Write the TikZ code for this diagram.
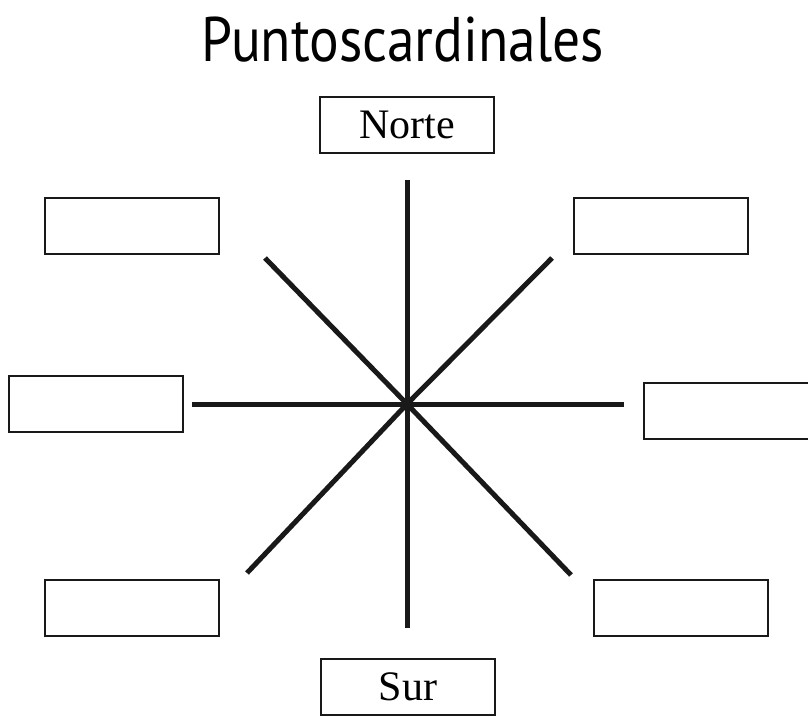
\documentclass[tikz,border=0pt]{standalone}
\usepackage{fontspec}
\setmainfont{Liberation Serif}
\newfontfamily\titlefont[FakeStretch=0.88]{PT Sans}
\begin{document}
\begin{tikzpicture}[x=1pt,y=-1pt,
  lbl/.style={draw=black!90, line width=2pt, minimum width=174pt, minimum height=56pt, inner sep=0pt, font=\fontsize{42}{42}\selectfont},
  ray/.style={line width=5pt, black!90}]
\useasboundingbox (0,0) rectangle (808,717);
\node[font=\titlefont\fontsize{63}{63}\selectfont, anchor=base, inner sep=0pt] (title) at (403,62) {Puntoscardinales};
\node[lbl] (N) at (407,124.5) {Norte};
\node[lbl] (S) at (408,686.5) {Sur};
\node[lbl] (NW) at (132,225.5) {};
\node[lbl] (NE) at (661,225.5) {};
\node[lbl] (W) at (96,404) {};
\node[lbl] (E) at (731,411) {};
\node[lbl] (SW) at (132,608) {};
\node[lbl] (SE) at (681,608) {};
\coordinate (C) at (407,404);
\coordinate (pN) at (407,180);
\coordinate (pS) at (407,628);
\coordinate (pW) at (192,404);
\coordinate (pE) at (624,404);
\coordinate (pNW) at (265,258);
\coordinate (pNE) at (552,258);
\coordinate (pSW) at (247,573);
\coordinate (pSE) at (571,575);
\draw[ray] (pN) -- (pS);
\draw[ray] (pW) -- (pE);
\draw[ray] (pNW) -- (C) -- (pSE);
\draw[ray] (pNE) -- (C) -- (pSW);
\end{tikzpicture}
\end{document}
